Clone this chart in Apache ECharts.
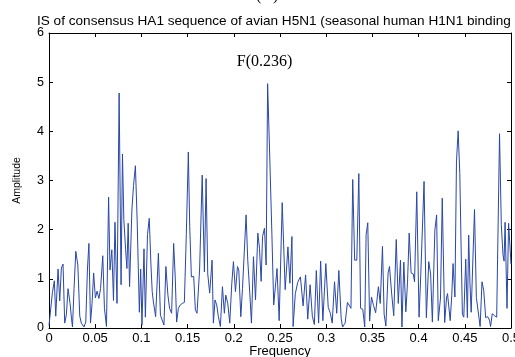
<!DOCTYPE html>
<html>
<head>
<meta charset="utf-8">
<title>IS of consensus HA1 sequence</title>
<script src="https://cdn.jsdelivr.net/npm/echarts@6/dist/echarts.min.js"></script>
<style>
  html, body { margin: 0; padding: 0; background: #fff; }
  #chart { width: 515px; height: 357px; }
</style>
</head>
<body>
<div id="chart"></div>
<script>
// [frequency, amplitude] pairs
var spectrum = [
  [0,0.05],[0.0037,0.72],[0.0058,0.96],[0.0073,0.24],[0.0098,1.2],[0.0116,0.55],[0.0134,1.22],[0.0152,1.3],
  [0.017,0.1],[0.0188,0.27],[0.0206,0.8],[0.0228,0.5],[0.0243,0.2],[0.0254,0.02],[0.0271,0.8],[0.029,1.56],
  [0.0312,1.28],[0.0333,0.24],[0.035,0.1],[0.0378,0.02],[0.0398,0.12],[0.0416,1.2],[0.0432,1.72],[0.0449,0.1],
  [0.0466,0.5],[0.0483,1.12],[0.0502,0.61],[0.052,0.75],[0.054,0.6],[0.0558,0.8],[0.0582,1.47],[0.06,0.4],
  [0.0622,0.03],[0.0645,2.66],[0.066,1.18],[0.068,1.59],[0.0698,0.56],[0.0714,2.15],[0.0736,0.5],[0.0759,4.78],
  [0.078,0.88],[0.0795,3.54],[0.081,2.2],[0.0829,1.6],[0.0843,1.21],[0.0857,2.13],[0.0872,0.84],[0.0897,2.4],
  [0.0915,2.9],[0.0935,3.3],[0.0954,2.2],[0.0978,0.32],[0.0992,1.2],[0.1006,0.06],[0.1028,1.61],[0.1043,0.22],
  [0.1066,1.9],[0.1085,2.23],[0.1103,1.3],[0.1117,0.74],[0.113,0.53],[0.1154,0.23],[0.1184,1.52],[0.1206,0.26],
  [0.1222,0.25],[0.1244,0.06],[0.1265,1.25],[0.1287,0.67],[0.1305,0.4],[0.1327,0.3],[0.1349,1.72],[0.1367,1.0],
  [0.1381,0.12],[0.14,0.4],[0.1421,0.47],[0.1443,0.5],[0.1465,0.52],[0.1486,1.9],[0.1508,3.58],[0.1523,2.06],
  [0.1541,1.04],[0.1566,1.05],[0.1584,0.37],[0.1602,0.3],[0.163,1.2],[0.1658,3.11],[0.1682,1.14],[0.17,3.04],
  [0.1718,1.1],[0.1739,0.71],[0.1765,1.38],[0.1779,0.1],[0.1797,0.57],[0.1815,0.47],[0.1833,0.23],[0.1855,0.03],
  [0.1877,0.84],[0.1898,0.3],[0.1913,0.67],[0.1935,0.5],[0.1956,0.1],[0.1978,0.9],[0.1996,1.35],[0.2018,0.74],
  [0.204,1.25],[0.2054,1.18],[0.2076,0.23],[0.2094,0.8],[0.2108,0.84],[0.2133,2.3],[0.2151,1.38],[0.2173,0.71],
  [0.2191,0.1],[0.2213,1.45],[0.2235,0.57],[0.226,1.93],[0.2278,1.62],[0.2296,0.95],[0.2311,1.86],[0.2332,2.03],
  [0.235,1.28],[0.2366,4.97],[0.2387,3.62],[0.2412,1.93],[0.2432,0.47],[0.2468,1.21],[0.2491,0.15],[0.2524,2.55],
  [0.2556,0.78],[0.2586,1.65],[0.2607,0.91],[0.2629,1.86],[0.2642,0.03],[0.2666,0.7],[0.2692,0.93],[0.2721,1.04],
  [0.275,0.45],[0.2777,1.08],[0.28,0.18],[0.2826,0.88],[0.285,0.24],[0.2872,0.07],[0.2893,1.17],[0.2918,0.1],
  [0.294,1.36],[0.2964,0.15],[0.2996,1.31],[0.3022,0.42],[0.3045,0.3],[0.3065,0.1],[0.309,0.94],[0.3114,0.3],
  [0.3137,1.17],[0.3162,0.2],[0.3177,0.02],[0.3205,0.1],[0.323,0.52],[0.3268,0.4],[0.3287,3.02],[0.3308,1.38],
  [0.3331,1.38],[0.3353,3.14],[0.3372,0.4],[0.3396,0.38],[0.3417,0.02],[0.3432,1.9],[0.345,2.14],[0.347,0.14],
  [0.349,0.63],[0.3512,0.46],[0.3535,0.31],[0.3554,0.33],[0.3565,0.84],[0.3585,0.5],[0.3609,1.66],[0.3627,0.28],
  [0.3646,0.04],[0.367,1.12],[0.3685,1.25],[0.3708,0.71],[0.3731,0.25],[0.3758,1.8],[0.378,0.5],[0.3804,1.38],
  [0.382,0.02],[0.384,1.34],[0.3862,0.33],[0.388,0.92],[0.3898,1.93],[0.3919,1.12],[0.3942,1.1],[0.3956,0.94],
  [0.398,2.77],[0.4005,0.22],[0.4023,1.06],[0.4039,1.07],[0.4059,2.98],[0.4084,0.21],[0.411,1.35],[0.413,1.1],
  [0.4149,0.12],[0.4176,1.99],[0.4195,2.3],[0.4213,0.15],[0.4237,0.61],[0.4256,2.64],[0.4282,0.11],[0.4302,0.61],
  [0.4313,0.7],[0.4342,0.15],[0.4359,0.67],[0.4373,1.31],[0.4393,0.63],[0.441,3.38],[0.4428,4.01],[0.4446,3.14],
  [0.446,1.65],[0.4474,0.28],[0.4489,0.22],[0.451,1.4],[0.4528,0.21],[0.4542,1.89],[0.4556,0.9],[0.4569,0.32],
  [0.4605,2.41],[0.4625,0.62],[0.4646,0.58],[0.4666,0.03],[0.4686,0.94],[0.4705,0.76],[0.4726,0.21],[0.4748,0.23],
  [0.4767,0.16],[0.4779,0.03],[0.4797,0.29],[0.4822,0.25],[0.4845,0.22],[0.4876,3.95],[0.4895,2.1],[0.4913,1.5],
  [0.4925,1.36],[0.4936,2.15],[0.4957,0.4],[0.4974,2.13],[0.4988,2.1],[0.5,1.3]
];
var peakFreq = 0.2366;
var peakAmp = 4.97;
var peakLabel = 'F(0.236)';
var xTicks = [0, 0.05, 0.1, 0.15, 0.2, 0.25, 0.3, 0.35, 0.4, 0.45, 0.5];
var yTicks = [0, 1, 2, 3, 4, 5, 6];

var chart = echarts.init(document.getElementById('chart'), null, { renderer: 'canvas' });

var axisCommon = {
  type: 'value',
  axisLine: { show: true, onZero: false, lineStyle: { color: '#000', width: 1 } },
  axisTick: { show: true, inside: true, length: 4, lineStyle: { color: '#000' } },
  splitLine: { show: false }
};

var option = {
  animation: false,
  backgroundColor: '#fff',
  textStyle: { fontFamily: 'Liberation Sans, Arial, sans-serif' },
  title: {
    text: 'IS of consensus HA1 sequence of avian H5N1 (seasonal human H1N1 binding',
    left: 37,
    top: 14,
    padding: 0,
    textStyle: { fontSize: 13.6, fontWeight: 'normal', color: '#000', fontFamily: 'Liberation Sans, Arial' }
  },
  graphic: [{
    type: 'text',
    left: 256,
    top: -12,
    style: { text: '(A)', font: '16px "Liberation Serif", "Times New Roman", serif', fill: '#000' }
  }],
  grid: { left: 49, right: 4, top: 33, bottom: 29, containLabel: false, outerBoundsMode: 'none' },
  xAxis: [
    Object.assign({}, axisCommon, {
      min: 0, max: 0.5, interval: 0.05,
      position: 'bottom',
      name: 'Frequency', nameLocation: 'middle', nameGap: 17, nameMoveOverlap: false,
      nameTextStyle: { fontSize: 13, color: '#000', verticalAlign: 'top' },
      axisLabel: {
        color: '#000', fontSize: 13, margin: 4,
        formatter: function (v) { return xTicks.indexOf(+v.toFixed(2)) >= 0 ? String(+v.toFixed(2)) : ''; }
      }
    }),
    Object.assign({}, axisCommon, {
      min: 0, max: 0.5, interval: 0.05, position: 'top',
      axisLabel: { show: false }
    })
  ],
  yAxis: [
    Object.assign({}, axisCommon, {
      min: 0, max: 6, interval: 1,
      position: 'left',
      name: 'Amplitude', nameLocation: 'middle', nameGap: 26, nameRotate: 90, nameMoveOverlap: false,
      nameTextStyle: { fontSize: 10.5, color: '#000' },
      axisLabel: { color: '#000', fontSize: 12.5, margin: 5,
        formatter: function (v) { return yTicks.indexOf(v) >= 0 ? String(v) : ''; } }
    }),
    Object.assign({}, axisCommon, {
      min: 0, max: 6, interval: 1, position: 'right',
      axisLabel: { show: false }
    })
  ],
  series: [{
    type: 'line',
    data: spectrum,
    xAxisIndex: 0,
    yAxisIndex: 0,
    showSymbol: false,
    symbol: 'none',
    lineStyle: { color: '#2a47a6', width: 1 },
    clip: true,
    markPoint: {
      symbol: 'circle',
      symbolSize: 0,
      silent: true,
      data: [{ coord: [peakFreq, peakAmp] }],
      label: {
        show: true,
        formatter: peakLabel,
        position: 'inside',
        offset: [-3, -22],
        color: '#000',
        fontSize: 16,
        fontFamily: 'Liberation Serif, Times New Roman, serif'
      }
    }
  }]
};

chart.setOption(option);
</script>
</body>
</html>
